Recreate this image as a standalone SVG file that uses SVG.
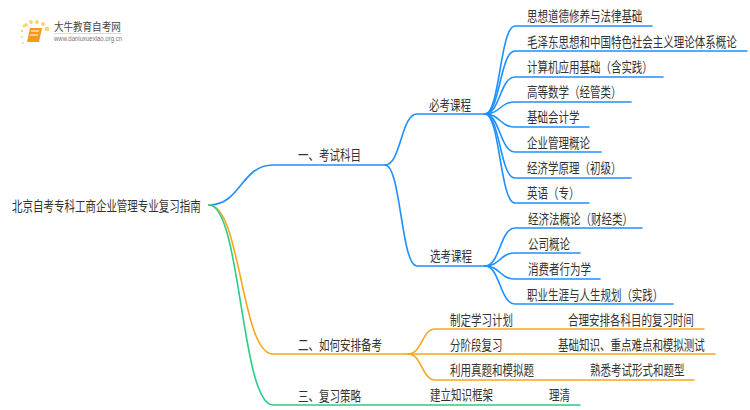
<svg xmlns="http://www.w3.org/2000/svg" width="750" height="410" viewBox="0 0 750 410">
<style>
text{font-family:"Noto Sans CJK SC","Noto Sans",sans-serif;fill:#333;font-size:14px}
.c{fill:none;stroke-width:1.6;stroke-linecap:round}
.b{stroke:#1e90ff}.o{stroke:#f5a81c}.g{stroke:#2ecc85}
</style>
<rect width="750" height="410" fill="#fff"/>
<g id="connectors">
<path class="c b" d="M209 205C241 205 241 165 273 165H385C401 165 401 114 417 114H485"/>
<path class="c b" d="M385 165C401 165 401 266 417 266H485"/>
<path class="c b" d="M485 114C500 114 500 26 515 26H652"/>
<path class="c b" d="M485 114C500 114 500 51 515 51H747"/>
<path class="c b" d="M485 114C500 114 500 77 515 77H663"/>
<path class="c b" d="M485 114C500 114 500 102 515 102H631"/>
<path class="c b" d="M485 114C500 114 500 127 515 127H589"/>
<path class="c b" d="M485 114C500 114 500 152 515 152H601"/>
<path class="c b" d="M485 114C500 114 500 178 515 178H631"/>
<path class="c b" d="M485 114C500 114 500 203 515 203H589"/>
<path class="c b" d="M485 266C500 266 500 228 515 228H642"/>
<path class="c b" d="M485 266C500 266 500 253 515 253H580"/>
<path class="c b" d="M485 266C500 266 500 279 515 279H600"/>
<path class="c b" d="M485 266C500 266 500 304 515 304H673"/>
<path class="c o" d="M209 205C241 205 241 354 273 354H408"/>
<path class="c o" d="M408 354C422 354 422 329 435 329H704"/>
<path class="c o" d="M408 354H715"/>
<path class="c o" d="M408 354C422 354 422 380 435 380H694"/>
<path class="c g" d="M209 205C241 205 241 405 273 405H580"/>
</g>
<g id="logo">
<g fill="#fbd27a"><circle cx="24" cy="26" r="1.500"/><circle cx="26" cy="25" r="1.800"/><circle cx="31" cy="22" r="2"/><circle cx="37" cy="22" r="2"/><circle cx="43" cy="24" r="2"/><circle cx="47" cy="29" r="2.300"/><circle cx="22" cy="31" r="1.300"/><circle cx="22" cy="37" r="1"/><circle cx="23" cy="43" r="1"/></g>
<path d="M30 28H42L39 42H27Z" fill="#f39a1b"/>
<path d="M31 31H39M30 35H38" stroke="#fff" stroke-width="1.200"/>
<text transform="translate(54 31) scale(.83 1)" style="font-size:11.500px;fill:#444">大牛教育自考网</text>
<path d="M54 33.500H121" stroke="#ccc" stroke-width=".7"/>
<text x="54" y="41" textLength="68" lengthAdjust="spacingAndGlyphs" style="font-size:6.300px;fill:#777;font-family:'Liberation Sans',sans-serif">www.daniuxuexiao.org.cn</text>
</g>
<g id="root"><text transform="translate(12 211) scale(.75 1)">北京自考专科工商企业管理专业复习指南</text></g>
<g id="n1"><text transform="translate(298 160) scale(.75 1)">一、考试科目</text></g>
<g id="n2"><text transform="translate(298 350) scale(.75 1)">二、如何安排备考</text></g>
<g id="n3"><text transform="translate(298 401) scale(.75 1)">三、复习策略</text></g>
<g id="n11"><text transform="translate(429 110) scale(.75 1)">必考课程</text></g>
<g id="n12"><text transform="translate(430 261) scale(.75 1)">选考课程</text></g>
<g id="a1"><text transform="translate(527 21) scale(.75 1)">思想道德修养与法律基础</text></g>
<g id="a2"><text transform="translate(527 47) scale(.75 1)">毛泽东思想和中国特色社会主义理论体系概论</text></g>
<g id="a3"><text transform="translate(527 72) scale(.75 1)">计算机应用基础（含实践）</text></g>
<g id="a4"><text transform="translate(527 97) scale(.75 1)">高等数学（经管类）</text></g>
<g id="a5"><text transform="translate(527 122) scale(.75 1)">基础会计学</text></g>
<g id="a6"><text transform="translate(527 148) scale(.75 1)">企业管理概论</text></g>
<g id="a7"><text transform="translate(527 173) scale(.75 1)">经济学原理（初级）</text></g>
<g id="a8"><text transform="translate(527 198) scale(.75 1)">英语（专）</text></g>
<g id="b1"><text transform="translate(528 224) scale(.75 1)">经济法概论（财经类）</text></g>
<g id="b2"><text transform="translate(528 249) scale(.75 1)">公司概论</text></g>
<g id="b3"><text transform="translate(528 274) scale(.75 1)">消费者行为学</text></g>
<g id="b4"><text transform="translate(527 300) scale(.75 1)">职业生涯与人生规划（实践）</text></g>
<g id="c1"><text transform="translate(450 325) scale(.75 1)">制定学习计划</text></g>
<g id="c1d"><text transform="translate(568 325) scale(.75 1)">合理安排各科目的复习时间</text></g>
<g id="c2"><text transform="translate(450 350) scale(.75 1)">分阶段复习</text></g>
<g id="c2d"><text transform="translate(558 350) scale(.75 1)">基础知识、重点难点和模拟测试</text></g>
<g id="c3"><text transform="translate(450 375) scale(.75 1)">利用真题和模拟题</text></g>
<g id="c3d"><text transform="translate(590 375) scale(.75 1)">熟悉考试形式和题型</text></g>
<g id="d1"><text transform="translate(430 400) scale(.75 1)">建立知识框架</text></g>
<g id="d1d"><text transform="translate(549 400) scale(.75 1)">理清</text></g>
</svg>
